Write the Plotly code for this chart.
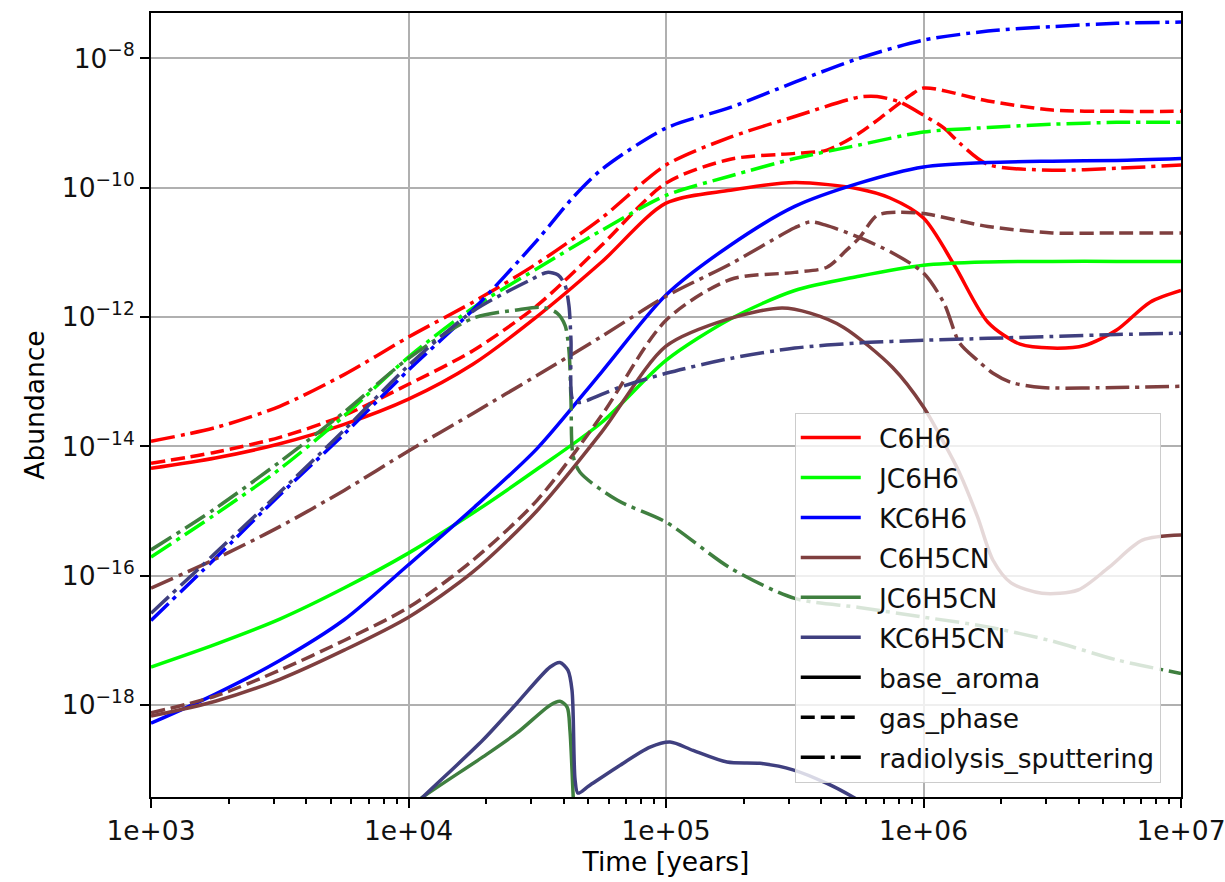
import plotly.graph_objects as go

# ---------------------------------------------------------------
# Values.
# Times are given as log10(t / years), abundances as log10(abundance).
# ---------------------------------------------------------------

# C6H6 (gas)
C6H6_base_logt = [3.0, 3.25, 3.5, 3.75, 4.0, 4.25, 4.5, 4.75, 5.0, 5.25, 5.5, 5.75, 5.87, 6.0, 6.12, 6.25, 6.375, 6.5, 6.625, 6.75, 6.88, 7.0]
C6H6_base_logy = [-14.34, -14.18, -13.96, -13.66, -13.27, -12.73, -11.99, -11.15, -10.24, -10.04, -9.92, -10.02, -10.16, -10.47, -11.20, -12.08, -12.42, -12.48, -12.44, -12.20, -11.77, -11.59]

C6H6_gas_logt = [3.0, 3.25, 3.5, 3.75, 4.0, 4.25, 4.5, 4.75, 5.0, 5.25, 5.5, 5.625, 5.75, 5.82, 5.95, 6.0, 6.25, 6.5, 6.75, 7.0]
C6H6_gas_logy = [-14.26, -14.09, -13.86, -13.52, -13.04, -12.52, -11.82, -10.89, -9.93, -9.56, -9.47, -9.42, -9.16, -8.96, -8.57, -8.46, -8.66, -8.80, -8.82, -8.82]

C6H6_rad_logt = [3.0, 3.25, 3.5, 3.75, 4.0, 4.25, 4.5, 4.75, 5.0, 5.25, 5.5, 5.75, 5.82, 5.91, 6.0, 6.08, 6.14, 6.25, 6.5, 6.75, 7.0]
C6H6_rad_logy = [-13.92, -13.71, -13.38, -12.89, -12.31, -11.77, -11.17, -10.47, -9.65, -9.22, -8.90, -8.60, -8.59, -8.68, -8.88, -9.08, -9.31, -9.64, -9.73, -9.70, -9.65]

# JC6H6 (ice surface)
JC6H6_base_logt = [3.0, 3.25, 3.5, 3.75, 4.0, 4.25, 4.5, 4.75, 5.0, 5.25, 5.5, 5.75, 6.0, 6.25, 6.5, 6.75, 7.0]
JC6H6_base_logy = [-17.41, -17.06, -16.67, -16.19, -15.65, -15.03, -14.35, -13.63, -12.67, -12.03, -11.59, -11.37, -11.20, -11.15, -11.14, -11.14, -11.14]

JC6H6_rad_logt = [3.0, 3.25, 3.5, 3.75, 4.0, 4.25, 4.5, 4.75, 5.0, 5.25, 5.5, 5.75, 6.0, 6.25, 6.5, 6.75, 7.0]
JC6H6_rad_logy = [-15.71, -15.05, -14.35, -13.53, -12.62, -11.86, -11.25, -10.66, -10.12, -9.82, -9.55, -9.34, -9.14, -9.07, -9.02, -8.99, -8.99]

# KC6H6 (ice bulk)
KC6H6_base_logt = [3.0, 3.25, 3.5, 3.75, 4.0, 4.25, 4.5, 4.75, 5.0, 5.25, 5.5, 5.75, 6.0, 6.25, 6.5, 6.75, 7.0]
KC6H6_base_logy = [-18.28, -17.83, -17.31, -16.68, -15.83, -14.96, -14.03, -12.85, -11.66, -10.89, -10.29, -9.93, -9.68, -9.61, -9.59, -9.58, -9.55]

KC6H6_rad_logt = [3.0, 3.25, 3.5, 3.75, 4.0, 4.25, 4.5, 4.639, 4.75, 5.0, 5.25, 5.5, 5.75, 6.0, 6.25, 6.5, 6.75, 7.0]
KC6H6_rad_logy = [-16.69, -15.73, -14.75, -13.81, -12.82, -11.89, -10.81, -10.15, -9.72, -9.08, -8.76, -8.37, -8.00, -7.72, -7.58, -7.51, -7.46, -7.44]

# C6H5CN (gas)
C6H5CN_base_logt = [3.0, 3.25, 3.5, 3.75, 4.0, 4.25, 4.5, 4.75, 5.0, 5.25, 5.45, 5.56, 5.69, 5.88, 6.0, 6.08, 6.14, 6.21, 6.27, 6.34, 6.46, 6.6, 6.72, 6.85, 7.0]
C6H5CN_base_logy = [-18.17, -17.94, -17.60, -17.15, -16.64, -15.94, -14.99, -13.78, -12.45, -12.02, -11.86, -11.94, -12.16, -12.78, -13.39, -13.95, -14.41, -15.09, -15.76, -16.11, -16.27, -16.22, -15.87, -15.45, -15.37]

C6H5CN_gas_logt = [3.0, 3.25, 3.5, 3.75, 4.0, 4.25, 4.5, 4.75, 5.0, 5.25, 5.5, 5.625, 5.7, 5.75, 5.82, 5.9, 6.0, 6.25, 6.5, 6.75, 7.0]
C6H5CN_gas_logy = [-18.12, -17.86, -17.46, -17.00, -16.49, -15.76, -14.83, -13.52, -12.05, -11.42, -11.31, -11.23, -10.97, -10.78, -10.43, -10.38, -10.40, -10.60, -10.70, -10.70, -10.70]

C6H5CN_rad_logt = [3.0, 3.25, 3.5, 3.75, 4.0, 4.25, 4.5, 4.75, 5.0, 5.25, 5.5, 5.56, 5.62, 5.75, 5.88, 6.0, 6.08, 6.14, 6.21, 6.27, 6.34, 6.46, 6.75, 7.0]
C6H5CN_rad_logy = [-16.19, -15.74, -15.24, -14.68, -14.07, -13.49, -12.90, -12.30, -11.68, -11.18, -10.62, -10.53, -10.58, -10.77, -11.01, -11.32, -11.79, -12.40, -12.67, -12.87, -13.01, -13.09, -13.09, -13.07]

# JC6H5CN (ice surface)
JC6H5CN_base_logt = [3.889, 4.056, 4.289, 4.421, 4.55, 4.588, 4.616, 4.627, 4.647, 4.7]
JC6H5CN_base_logy = [-19.92, -19.42, -18.80, -18.43, -18.00, -17.94, -18.03, -18.39, -19.93, -22.0]

JC6H5CN_rad_logt = [3.0, 3.25, 3.5, 3.75, 4.0, 4.25, 4.421, 4.522, 4.577, 4.608, 4.623, 4.631, 4.639, 4.666, 4.81, 5.0, 5.25, 5.5, 5.75, 6.0, 6.25, 6.5, 6.75, 7.0]
JC6H5CN_rad_logy = [-15.60, -14.96, -14.24, -13.47, -12.64, -12.02, -11.89, -11.85, -11.94, -12.13, -12.51, -13.29, -14.14, -14.40, -14.83, -15.17, -15.88, -16.35, -16.49, -16.64, -16.79, -17.01, -17.30, -17.51]

# KC6H5CN (ice bulk)
KC6H5CN_base_logt = [3.889, 4.056, 4.289, 4.421, 4.55, 4.588, 4.619, 4.635, 4.647, 4.658, 4.7, 4.81, 4.938, 5.016, 5.105, 5.237, 5.365, 5.493, 5.625, 5.726, 5.87, 6.0]
KC6H5CN_base_logy = [-20.06, -19.42, -18.54, -17.97, -17.41, -17.34, -17.46, -17.77, -19.16, -19.36, -19.25, -18.96, -18.65, -18.57, -18.70, -18.88, -18.90, -19.00, -19.21, -19.42, -19.78, -20.2]

KC6H5CN_rad_logt = [3.0, 3.25, 3.5, 3.75, 4.0, 4.25, 4.472, 4.538, 4.581, 4.608, 4.623, 4.631, 4.639, 4.666, 4.81, 5.0, 5.25, 5.5, 5.75, 6.0, 6.25, 6.5, 6.75, 7.0]
KC6H5CN_rad_logy = [-16.58, -15.65, -14.71, -13.75, -12.75, -11.91, -11.43, -11.31, -11.35, -11.51, -11.82, -12.36, -13.29, -13.32, -13.10, -12.87, -12.64, -12.48, -12.40, -12.36, -12.33, -12.30, -12.27, -12.25]

species = ["C6H6", "JC6H6", "KC6H6", "C6H5CN", "JC6H5CN", "KC6H5CN"]
models = ["base_aroma", "gas_phase", "radiolysis_sputtering"]

x_tick_vals = [1e3, 1e4, 1e5, 1e6, 1e7]
x_tick_text = ["1e+03", "1e+04", "1e+05", "1e+06", "1e+07"]
y_tick_vals = [1e-8, 1e-10, 1e-12, 1e-14, 1e-16, 1e-18]
y_tick_text = ["10<sup>\u22128</sup>", "10<sup>\u221210</sup>", "10<sup>\u221212</sup>",
               "10<sup>\u221214</sup>", "10<sup>\u221216</sup>", "10<sup>\u221218</sup>"]

series = [
    ("C6H6", "base_aroma", C6H6_base_logt, C6H6_base_logy),
    ("C6H6", "gas_phase", C6H6_gas_logt, C6H6_gas_logy),
    ("C6H6", "radiolysis_sputtering", C6H6_rad_logt, C6H6_rad_logy),
    ("JC6H6", "base_aroma", JC6H6_base_logt, JC6H6_base_logy),
    ("JC6H6", "radiolysis_sputtering", JC6H6_rad_logt, JC6H6_rad_logy),
    ("KC6H6", "base_aroma", KC6H6_base_logt, KC6H6_base_logy),
    ("KC6H6", "radiolysis_sputtering", KC6H6_rad_logt, KC6H6_rad_logy),
    ("C6H5CN", "base_aroma", C6H5CN_base_logt, C6H5CN_base_logy),
    ("C6H5CN", "gas_phase", C6H5CN_gas_logt, C6H5CN_gas_logy),
    ("C6H5CN", "radiolysis_sputtering", C6H5CN_rad_logt, C6H5CN_rad_logy),
    ("JC6H5CN", "base_aroma", JC6H5CN_base_logt, JC6H5CN_base_logy),
    ("JC6H5CN", "radiolysis_sputtering", JC6H5CN_rad_logt, JC6H5CN_rad_logy),
    ("KC6H5CN", "base_aroma", KC6H5CN_base_logt, KC6H5CN_base_logy),
    ("KC6H5CN", "radiolysis_sputtering", KC6H5CN_rad_logt, KC6H5CN_rad_logy),
]

colors = {
    "C6H6": "#ff0000",
    "JC6H6": "#00ff00",
    "KC6H6": "#0000ff",
    "C6H5CN": "#7f3f3f",
    "JC6H5CN": "#3f7f3f",
    "KC6H5CN": "#3f3f7f",
}
dashes = {
    "base_aroma": "solid",
    "gas_phase": "14px,6px",
    "radiolysis_sputtering": "24px,6px,4px,6px",
}

LW = 3.5
FONT = "DejaVu Sans"
TEXT_SIZE = 26.5
TICK_SIZE = 26.5

fig = go.Figure()
for sp, model, lt, ly in series:
    fig.add_trace(go.Scatter(
        x=[10 ** v for v in lt],
        y=[10 ** v for v in ly],
        mode="lines",
        line=dict(color=colors[sp], width=LW, dash=dashes[model], shape="spline", smoothing=0.8),
        showlegend=False,
        hoverinfo="skip",
    ))

# legend entries (species colours, then model line styles)
for i, sp in enumerate(species):
    fig.add_trace(go.Scatter(x=[None], y=[None], mode="lines", name="\u2002" + sp,
                             line=dict(color=colors[sp], width=LW),
                             legendgroup="g%d" % i))
for j, model in enumerate(models):
    fig.add_trace(go.Scatter(x=[None], y=[None], mode="lines", name="\u2002" + model,
                             line=dict(color="black", width=LW, dash=dashes[model]),
                             legendgroup="m%d" % j))

fig.update_layout(
    width=1225, height=882,
    margin=dict(l=151, r=44, t=13, b=85, autoexpand=False),
    paper_bgcolor="white", plot_bgcolor="white",
    font=dict(family=FONT, size=TEXT_SIZE, color="black"),
    legend=dict(
        x=0.625, y=0.49, xanchor="left", yanchor="top",
        bgcolor="rgba(255,255,255,0.8)", bordercolor="#cccccc", borderwidth=1,
        font=dict(family=FONT, size=TEXT_SIZE, color="#111111"),
        tracegroupgap=2.5, itemwidth=60,
    ),
    xaxis=dict(
        type="log", range=[3, 7],
        tickmode="array", tickvals=x_tick_vals, ticktext=x_tick_text,
        ticks="outside", ticklen=9, tickwidth=2, tickcolor="black",
        ticklabeloverflow="allow",
        showgrid=True, gridcolor="#b0b0b0", gridwidth=1.6,
        showline=True, linecolor="black", linewidth=2, mirror=True,
        zeroline=False,
        minor=dict(ticks="outside", ticklen=5, tickwidth=1.5, tickcolor="black",
                   tickmode="array",
                   tickvals=[m * 10 ** e for e in range(3, 7) for m in range(2, 10)],
                   showgrid=False),
        title=dict(text="Time [years]", font=dict(family=FONT, size=TEXT_SIZE), standoff=6),
        tickfont=dict(family=FONT, size=TICK_SIZE, color="#111111"),
    ),
    yaxis=dict(
        type="log", range=[-19.42, -7.30],
        tickmode="array", tickvals=y_tick_vals, ticktext=y_tick_text,
        ticks="outside", ticklen=9, tickwidth=2, tickcolor="black",
        ticklabeloverflow="allow",
        showgrid=True, gridcolor="#b0b0b0", gridwidth=1.6,
        showline=True, linecolor="black", linewidth=2, mirror=True,
        zeroline=False,
        title=dict(text="Abundance", font=dict(family=FONT, size=TEXT_SIZE), standoff=10),
        tickfont=dict(family=FONT, size=TICK_SIZE, color="#111111"),
    ),
)

fig.write_html("out.html")
